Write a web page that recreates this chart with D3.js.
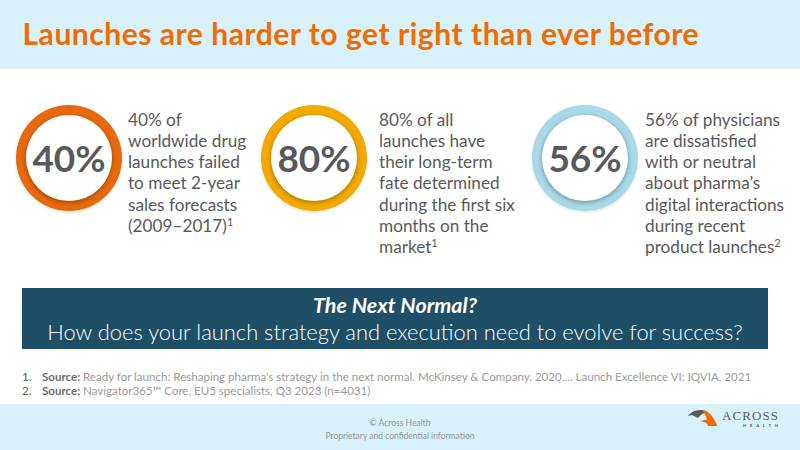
<!DOCTYPE html>
<html>
<head>
<meta charset="utf-8">
<script src="https://cdn.jsdelivr.net/npm/d3@7"></script>
<style>
  html, body { margin: 0; padding: 0; background: #fff; }
  svg { display: block; }
  text { font-family: Lato, sans-serif; }
</style>
</head>
<body>
<svg id="slide" width="800" height="450"></svg>
<script>
const titleText = "Launches are harder to get right than ever before";

const statLabels = ["40%", "80%", "56%"];
const statColors = ["#e8690b", "#f2a900", "#a9d9e4"];
const statShades = ["#a84a06", "#b57f00", "#6f9fab"];
const statCenters = [69, 314, 585];
const statTextX = [128, 379, 645];
const statLines = [
  ["40% of", "worldwide drug", "launches failed", "to meet 2-year", "sales forecasts", "(2009–2017)"],
  ["80% of all", "launches have", "their long-term", "fate determined", "during the first six", "months on the", "market"],
  ["56% of physicians", "are dissatisfied", "with or neutral", "about pharma’s", "digital interactions", "during recent", "product launches"]
];
const statRefs = ["1", "1", "2"];

const bannerLines = ["The Next Normal?", "How does your launch strategy and execution need to evolve for success?"];

const noteNumbers = ["1.", "2."];
const noteBodies = [
  "Ready for launch: Reshaping pharma's strategy in the next normal. McKinsey & Company. 2020.... Launch Excellence VI: IQVIA, 2021",
  "Navigator365™ Core, EU5 specialists, Q3 2023 (n=4031)"
];
const footerLines = ["© Across Health", "Proprietary and confidential information"];

const svg = d3.select("#slide");

// Soft shadow for the inner disc of each ring
const defs = svg.append("defs");
const filter = defs.append("filter").attr("id", "disc-shadow")
  .attr("x", "-30%").attr("y", "-30%").attr("width", "160%").attr("height", "160%");
filter.append("feGaussianBlur").attr("stdDeviation", 2);

const ringShadow = defs.append("filter").attr("id", "ring-shadow")
  .attr("x", "-30%").attr("y", "-30%").attr("width", "160%").attr("height", "160%");
ringShadow.append("feDropShadow").attr("dx", 0).attr("dy", 1)
  .attr("stdDeviation", 1.5).attr("flood-color", "#000").attr("flood-opacity", 0.12);

// Header and footer bands
svg.append("rect").attr("width", 800).attr("height", 69).attr("fill", "#d9f1fb");
svg.append("rect").attr("y", 404).attr("width", 800).attr("height", 46).attr("fill", "#d9f1fb");

svg.append("text")
  .attr("x", 22.5).attr("y", 45)
  .attr("font-size", 30).attr("font-weight", 700)
  .attr("fill", "#ee6c00")
  .attr("textLength", 676).attr("lengthAdjust", "spacing")
  .text(titleText);

// Rings
const ringArc = d3.arc().innerRadius(43).outerRadius(53).startAngle(0).endAngle(2 * Math.PI);

const stat = svg.append("g").selectAll("g")
  .data(statLabels)
  .join("g")
  .attr("transform", (d, i) => `translate(${statCenters[i]},158)`);

stat.append("path")
  .attr("d", ringArc())
  .attr("fill", (d, i) => statColors[i])
  .attr("filter", "url(#ring-shadow)");

stat.append("circle")
  .attr("r", 43.5)
  .attr("cy", 1.5)
  .attr("fill", (d, i) => statShades[i])
  .attr("filter", "url(#disc-shadow)");

stat.append("circle")
  .attr("r", 43)
  .attr("fill", "#fff");

stat.append("text")
  .attr("text-anchor", "middle")
  .attr("y", 14)
  .attr("font-size", 37)
  .attr("font-weight", 700)
  .attr("fill", "#58595b")
  .text(d => d);

// Stat descriptions
statLines.forEach((lines, i) => {
  const block = svg.append("text")
    .attr("font-size", 17.2)
    .attr("fill", "#58595b");

  lines.forEach((line, j) => {
    block.append("tspan")
      .attr("x", statTextX[i])
      .attr("y", 125.5 + j * 21.3)
      .text(line);
  });

  block.append("tspan")
    .attr("dy", -6)
    .attr("font-size", 11)
    .text(statRefs[i]);
});

// Banner
svg.append("rect")
  .attr("x", 22).attr("y", 288).attr("width", 746).attr("height", 61)
  .attr("fill", "#1f4e67");

svg.append("text")
  .attr("x", 395).attr("y", 313)
  .attr("text-anchor", "middle")
  .attr("font-size", 21.5).attr("font-weight", 700).attr("font-style", "italic")
  .attr("fill", "#fff")
  .text(bannerLines[0]);

svg.append("text")
  .attr("x", 395).attr("y", 340)
  .attr("text-anchor", "middle")
  .attr("font-size", 21.9).attr("font-weight", 300)
  .attr("fill", "#fff")
  .text(bannerLines[1]);

// Footnotes
noteBodies.forEach((body, i) => {
  const y = 381 + i * 14;
  svg.append("text")
    .attr("x", 22).attr("y", y)
    .attr("font-size", 11.5).attr("fill", "#58595b")
    .text(noteNumbers[i]);
  const note = svg.append("text")
    .attr("x", 42).attr("y", y)
    .attr("font-size", 11.56).attr("fill", "#9a9a9a");
  note.append("tspan").attr("font-weight", 700).attr("fill", "#6d6e71").text("Source: ");
  note.append("tspan").text(body);
});

// Footer
footerLines.forEach((line, i) => {
  svg.append("text")
    .attr("x", 400).attr("y", 426 + i * 12.5)
    .attr("text-anchor", "middle")
    .attr("font-size", 8.5).attr("fill", "#8c9599")
    .text(line);
});

// Logo
const logo = svg.append("g");
logo.append("path")
  .attr("d", "M688,416 C691,412 695,410 702,410 L707,412 C703,413 700,415 698,418 L692,415 Z")
  .attr("fill", "#58595b");
logo.append("path")
  .attr("d", "M702,410 C709,410 714,418 717.5,426 L708,426 C708,424 706,422 700,421 L707,419.5 C706,416 704,412 702,410 Z")
  .attr("fill", "#ee6c00");
logo.append("text")
  .attr("x", 722).attr("y", 419.5)
  .attr("font-size", 13)
  .attr("fill", "#58595b")
  .style("font-family", "'Liberation Serif', serif")
  .attr("textLength", 56)
  .text("ACROSS");
logo.append("text")
  .attr("x", 743).attr("y", 426.5)
  .attr("font-size", 4.2).attr("font-weight", 700)
  .attr("fill", "#58595b")
  .attr("textLength", 35)
  .text("HEALTH");
</script>
</body>
</html>
